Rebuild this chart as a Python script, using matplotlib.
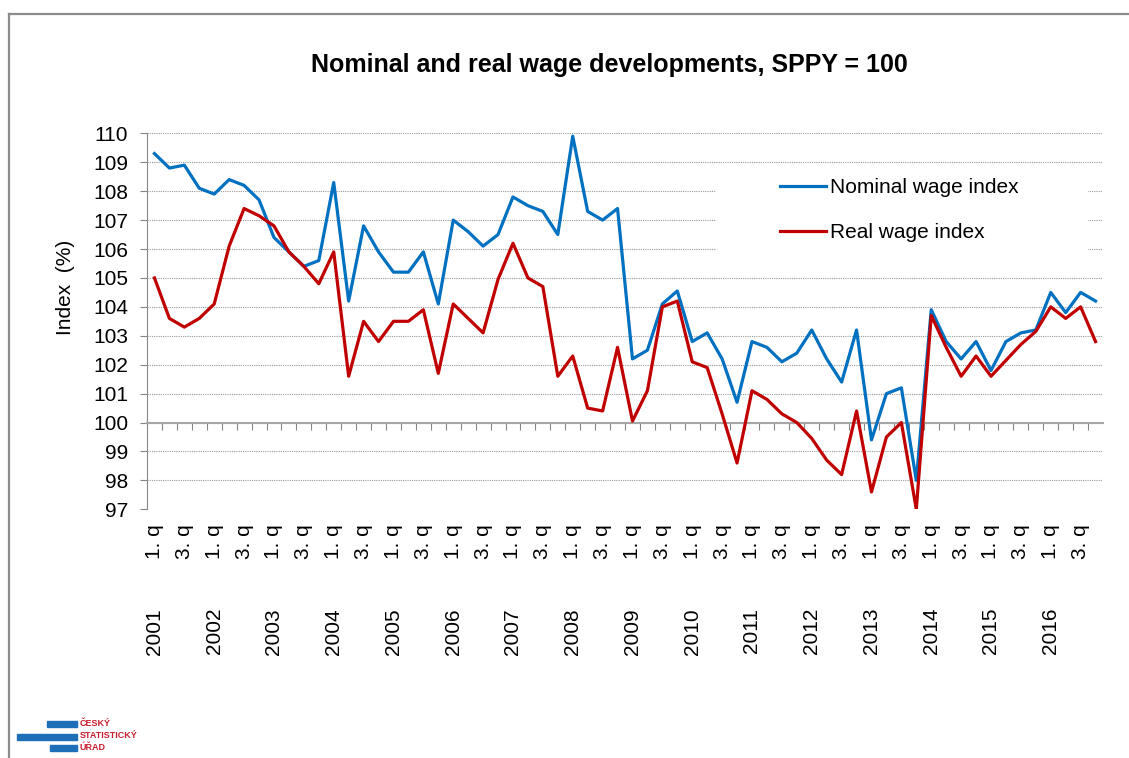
import matplotlib.pyplot as plt
from matplotlib.patches import Rectangle
from matplotlib.lines import Line2D

# Data: quarterly indices, same period previous year = 100
years = [str(y) for y in range(2001, 2017)]
quarters = ['1. q', '2. q', '3. q', '4. q']

nominal = [109.3, 108.8, 108.9, 108.1,
           107.9, 108.4, 108.2, 107.7,
           106.4, 105.9, 105.4, 105.6,
           108.3, 104.2, 106.8, 105.9,
           105.2, 105.2, 105.9, 104.1,
           107.0, 106.6, 106.1, 106.5,
           107.8, 107.5, 107.3, 106.5,
           109.9, 107.3, 107.0, 107.4,
           102.2, 102.5, 104.1, 104.55,
           102.8, 103.1, 102.2, 100.7,
           102.8, 102.6, 102.1, 102.4,
           103.2, 102.2, 101.4, 103.2,
           99.4, 101.0, 101.2, 98.0,
           103.9, 102.8, 102.2, 102.8,
           101.8, 102.8, 103.1, 103.2,
           104.5, 103.8, 104.5, 104.2]

real = [105.0, 103.6, 103.3, 103.6,
        104.1, 106.1, 107.4, 107.15,
        106.8, 105.9, 105.4, 104.8,
        105.9, 101.6, 103.5, 102.8,
        103.5, 103.5, 103.9, 101.7,
        104.1, 103.6, 103.1, 104.95,
        106.2, 105.0, 104.7, 101.6,
        102.3, 100.5, 100.4, 102.6,
        100.05, 101.1, 104.0, 104.2,
        102.1, 101.9, 100.3, 98.6,
        101.1, 100.8, 100.3, 100.0,
        99.45, 98.7, 98.2, 100.4,
        97.6, 99.5, 100.0, 97.0,
        103.7, 102.6, 101.6, 102.3,
        101.6, 102.15, 102.7, 103.15,
        104.0, 103.6, 104.0, 102.8]

labels = [(y, q) for y in years for q in quarters]
x = list(range(len(labels)))

plt.rcParams['font.family'] = ['Liberation Sans', 'DejaVu Sans']

fig = plt.figure(figsize=(11.29, 7.58), dpi=100)
ax = fig.add_axes([0.1302, 0.3281, 0.8468, 0.4960])

ax.set_axisbelow(True)
ax.plot(x, nominal, color='#0070C0', lw=2.3, label='Nominal wage index', zorder=3)
ax.plot(x, real, color='#C00000', lw=2.3, label='Real wage index', zorder=3)

ax.set_xlim(-0.5, len(x) - 0.5)
ax.set_ylim(97, 110)
ax.set_yticks(range(97, 111))
ax.tick_params(axis='y', labelsize=15, length=5, color='#868686', pad=8.5)
ax.grid(axis='y', color='#9a9a9a', linestyle=(0, (1, 1)), linewidth=0.8)

# category axis crosses at 100, tick marks between categories
for s in ['top', 'right']:
    ax.spines[s].set_visible(False)
ax.spines['left'].set_color('#868686')
ax.spines['bottom'].set_color('#a6a6a6')
ax.spines['bottom'].set_linewidth(1.5)
ax.spines['bottom'].set_position(('data', 100))
ax.set_xticks([i + 0.5 for i in x[:-1]])
ax.tick_params(axis='x', length=5, color='#868686', labelbottom=False)

# quarter labels at the bottom of the plot area
qax = ax.secondary_xaxis('bottom')
qax.spines['bottom'].set_visible(False)
qpos = [i for i in x if labels[i][1] in ('1. q', '3. q')]
qax.set_xticks(qpos)
qax.set_xticklabels([labels[i][1] for i in qpos], rotation=90, fontsize=15)
qax.tick_params(length=0, pad=11)

# year labels
yax = ax.secondary_xaxis('bottom')
yax.spines['bottom'].set_visible(False)
ypos = [i for i in x if labels[i][1] == '1. q']
yax.set_xticks(ypos)
yax.set_xticklabels([labels[i][0] for i in ypos], rotation=90, fontsize=15)
yax.tick_params(length=0, pad=71)

# legend sits on a white box that hides the grid behind it
ax.add_patch(Rectangle((0.595, 0.650), 0.389, 0.252, transform=ax.transAxes,
                       facecolor='white', edgecolor='none', zorder=1))
ax.legend(loc='upper left', bbox_to_anchor=(0.662, 0.881), frameon=False,
          fontsize=15, handlelength=2.2, handletextpad=0.2, labelspacing=1.25,
          borderpad=0, borderaxespad=0)

fig.text(0.540, 0.914, 'Nominal and real wage developments, SPPY = 100',
         ha='center', va='center', fontsize=18, fontweight='bold')
fig.text(0.0576, 0.621, 'Index  (%)', rotation=90, ha='center', va='center', fontsize=15)

# chart frame (top and left edges)
fig.add_artist(Line2D([0.008, 1.0], [0.9815, 0.9815], color='#8c8c8c', lw=1.6))
fig.add_artist(Line2D([0.008, 0.008], [0.0, 0.9815], color='#8c8c8c', lw=1.6))

# CZSO logo
blue = '#1e6fb8'
red = '#c8202f'
fig.add_artist(Rectangle((47 / 1129, 1 - 727 / 758), 30 / 1129, 6 / 758,
                         transform=fig.transFigure, color=blue))
fig.add_artist(Rectangle((17 / 1129, 1 - 740 / 758), 60 / 1129, 6 / 758,
                         transform=fig.transFigure, color=blue))
fig.add_artist(Rectangle((50 / 1129, 1 - 751 / 758), 27 / 1129, 6 / 758,
                         transform=fig.transFigure, color=blue))
for i, word in enumerate(['ČESKÝ', 'STATISTICKÝ', 'ÚŘAD']):
    fig.text(80 / 1129, 1 - (724 + 12 * i) / 758, word, color=red, fontsize=6.5,
             fontweight='bold', va='center', ha='left')

fig.savefig('out.png', dpi=100)
